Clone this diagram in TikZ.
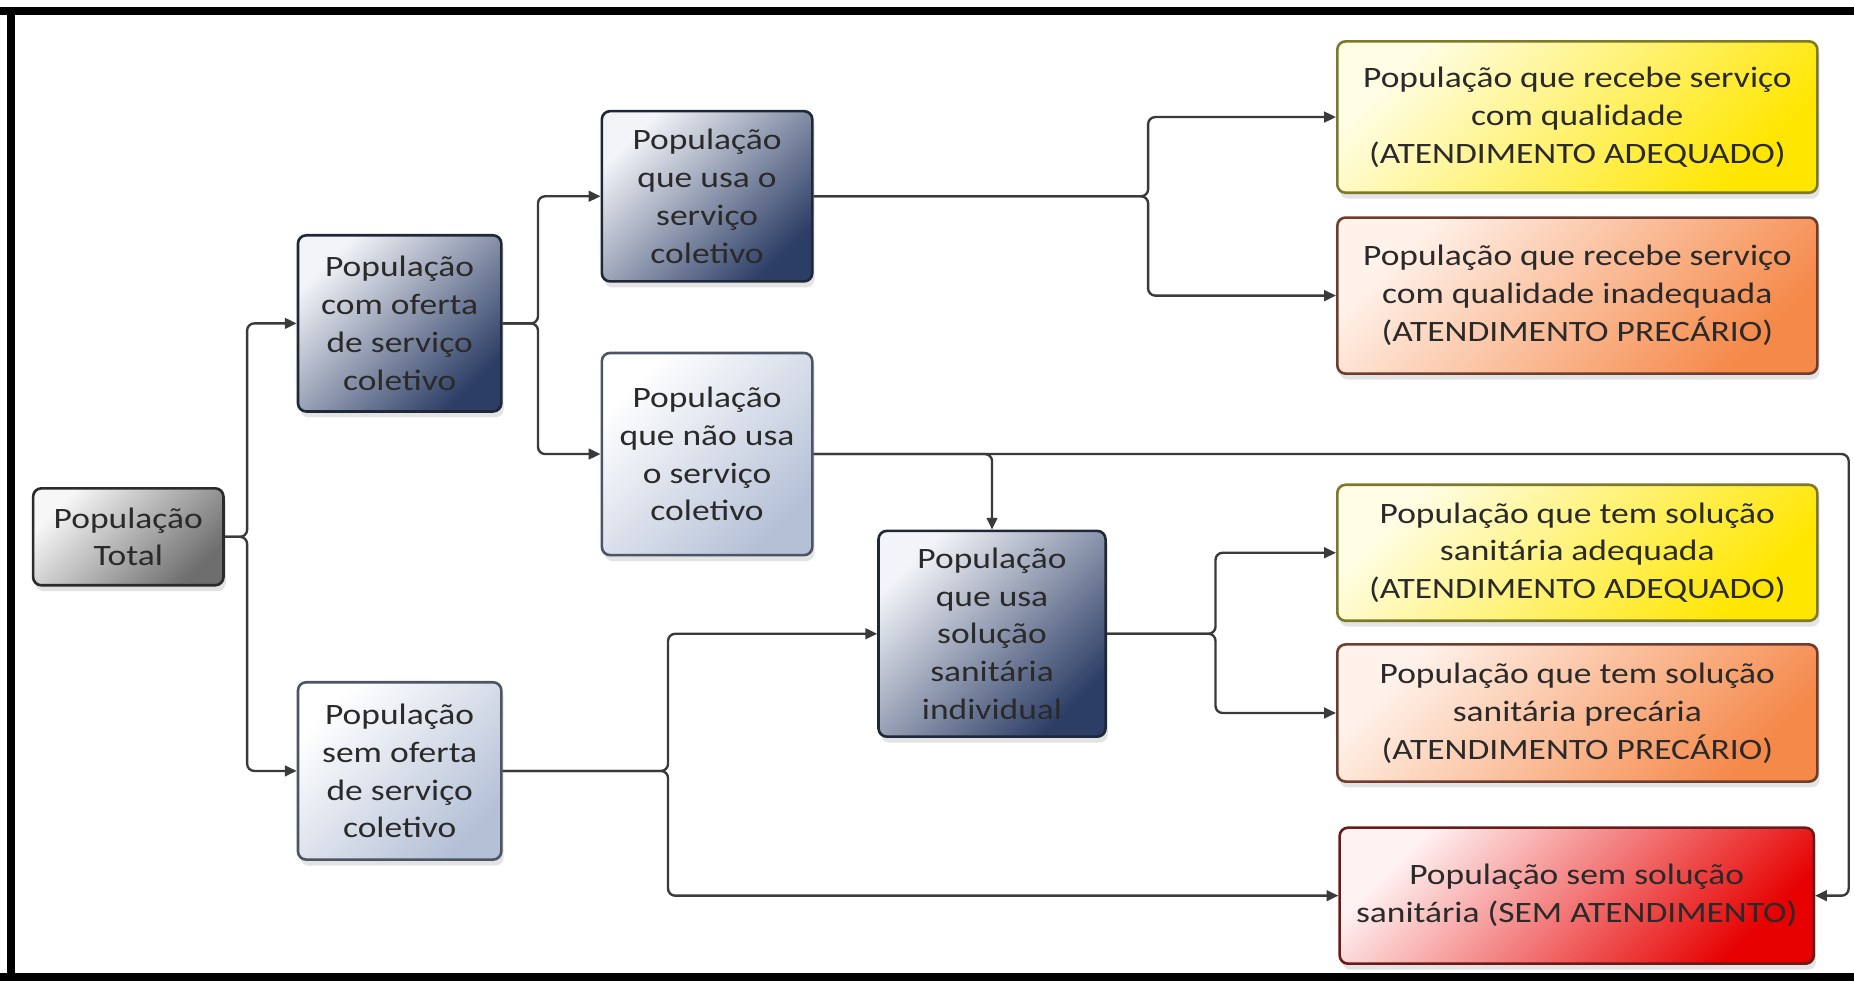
\documentclass[tikz,border=0pt]{standalone}
\usepackage{fontspec}
\setmainfont{Carlito}[FakeStretch=1.2]
\usetikzlibrary{arrows.meta,shadows}
\definecolor{txt}{HTML}{2A2A2A}
\definecolor{conncol}{HTML}{3A3A3A}
\tikzset{
  box/.style={rounded corners=7pt, line width=2.2pt, align=center, text=txt,
    font=\fontsize{25}{32}\selectfont, inner sep=2pt,
    drop shadow={opacity=0.22, shadow xshift=2pt, shadow yshift=-5pt}},
  darkbox/.style={box, draw=HTML1E2838, top color=HTMLF2F4F8, bottom color=HTML2D3E66, shading angle=45},
  lightbox/.style={box, draw=HTML4C5566, top color=white, bottom color=HTMLB4C0D6, shading angle=45},
  graybox/.style={box, draw=HTML2B2B2B, top color=HTMLF7F7F7, bottom color=HTML6E6E6E, shading angle=45},
  yellowbox/.style={box, draw=HTML7C7A2A, top color=HTMLFFFDE4, bottom color=HTMLFFE600, shading angle=45},
  orangebox/.style={box, draw=HTML6E3D2E, top color=HTMLFFF2EA, bottom color=HTMLF5894A, shading angle=45},
  redbox/.style={box, draw=HTML6B1A1A, top color=HTMLFFF2F2, bottom color=HTMLE60000, shading angle=45},
  conn/.style={draw=conncol, line width=2pt, rounded corners=6pt},
  arr/.style={conn, -{Triangle[length=10pt,width=9pt]}},
}
\definecolor{HTML1E2838}{HTML}{1E2838}
\definecolor{HTMLF2F4F8}{HTML}{F2F4F8}
\definecolor{HTML2D3E66}{HTML}{2D3E66}
\definecolor{HTML4C5566}{HTML}{4C5566}
\definecolor{HTMLB4C0D6}{HTML}{B4C0D6}
\definecolor{HTML2B2B2B}{HTML}{2B2B2B}
\definecolor{HTMLF7F7F7}{HTML}{F7F7F7}
\definecolor{HTML6E6E6E}{HTML}{6E6E6E}
\definecolor{HTML7C7A2A}{HTML}{7C7A2A}
\definecolor{HTMLFFFDE4}{HTML}{FFFDE4}
\definecolor{HTMLFFE600}{HTML}{FFE600}
\definecolor{HTML6E3D2E}{HTML}{6E3D2E}
\definecolor{HTMLFFF2EA}{HTML}{FFF2EA}
\definecolor{HTMLF5894A}{HTML}{F5894A}
\definecolor{HTML6B1A1A}{HTML}{6B1A1A}
\definecolor{HTMLFFF2F2}{HTML}{FFF2F2}
\definecolor{HTMLE60000}{HTML}{E60000}
\begin{document}
\begin{tikzpicture}[x=1pt,y=-1pt]
\useasboundingbox (0,0) rectangle (1568,829.7);
% frame
\fill[black] (0,5.5) rectangle (1568,12.7);
\fill[black] (5.6,5.5) rectangle (12.7,829.7);
\fill[black] (0,822.5) rectangle (1568,829.7);
% nodes
\node[graybox, minimum width=161pt, minimum height=82pt] (total) at (108.5,454) {População\\Total};
\node[darkbox, minimum width=172pt, minimum height=149pt] (oferta) at (338,273.5) {População\\com oferta\\de serviço\\coletivo};
\node[lightbox, minimum width=172pt, minimum height=150pt] (sem) at (338,652) {População\\sem oferta\\de serviço\\coletivo};
\node[darkbox, minimum width=178pt, minimum height=144pt] (usa) at (598,166) {População\\que usa o\\serviço\\coletivo};
\node[lightbox, minimum width=178pt, minimum height=171pt] (nao) at (598,384) {População\\que não usa\\o serviço\\coletivo};
\node[darkbox, minimum width=192pt, minimum height=174pt] (ind) at (839,536) {População\\que usa\\solução\\sanitária\\individual};
\node[yellowbox, minimum width=406pt, minimum height=128pt] (y1) at (1334,99) {População que recebe serviço\\com qualidade\\(ATENDIMENTO ADEQUADO)};
\node[orangebox, minimum width=406pt, minimum height=132pt] (o1) at (1334,250) {População que recebe serviço\\com qualidade inadequada\\(ATENDIMENTO PRECÁRIO)};
\node[yellowbox, minimum width=406pt, minimum height=115pt] (y2) at (1334,467.5) {População que tem solução\\sanitária adequada\\(ATENDIMENTO ADEQUADO)};
\node[orangebox, minimum width=406pt, minimum height=116pt] (o2) at (1334,603) {População que tem solução\\sanitária precária\\(ATENDIMENTO PRECÁRIO)};
\node[redbox, minimum width=401pt, minimum height=115pt] (red) at (1333.5,757.5) {População sem solução\\sanitária (SEM ATENDIMENTO)};
% junctions
\coordinate (j0) at (209,454);
\coordinate (j1) at (455,273.5);
\coordinate (j2) at (971,166);
\coordinate (j3) at (565,652);
\coordinate (j4) at (1028,536);
\coordinate (loop) at (1563.5,384);
% connectors
\draw[arr] (total.east) -- (j0) |- (oferta.west);
\draw[arr] (total.east) -- (j0) |- (sem.west);
\draw[arr] (oferta.east) -- (j1) |- (usa.west);
\draw[arr] (oferta.east) -- (j1) |- (nao.west);
\draw[arr] (usa.east) -- (j2) |- (y1.west);
\draw[arr] (usa.east) -- (j2) |- (o1.west);
\draw[arr] (nao.east) -| (ind.north);
\draw[arr] (nao.east) -- (loop) |- (red.east);
\draw[arr] (sem.east) -- (j3) |- (ind.west);
\draw[arr] (sem.east) -- (j3) |- (red.west);
\draw[arr] (ind.east) -- (j4) |- (y2.west);
\draw[arr] (ind.east) -- (j4) |- (o2.west);
\end{tikzpicture}
\end{document}
